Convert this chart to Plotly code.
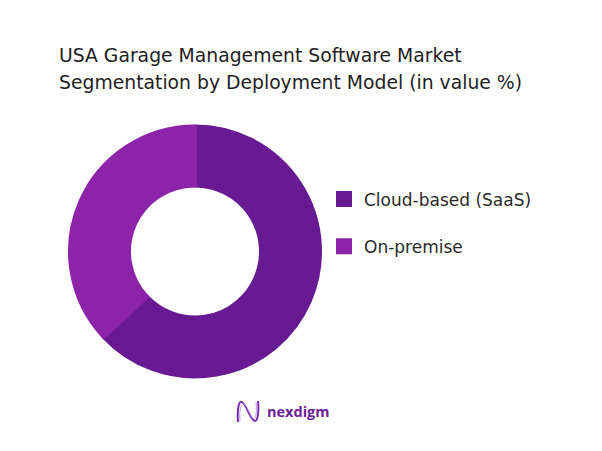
import plotly.graph_objects as go

labels = ["Cloud-based (SaaS)", "On-premise"]
values = [63, 37]
colors = ["#681a93", "#8d23a8"]

title_lines = ["USA Garage Management Software Market",
               "Segmentation by Deployment Model (in value %)"]
brand = "nexdigm"

W, H = 602, 451
OFF = 8  # page body margin


def px(x):
    return (x - OFF) / W


def py(y):
    return (H - (y - OFF)) / H


cx, cy = 195, 251.5
r_geo = 125          # geometric radius; marker line adds 2px outward
lw = 4
hole = 66 / r_geo

legend_labels = [lab + "<br> " for lab in labels]

fig = go.Figure(go.Pie(
    labels=legend_labels, values=values, hole=hole, sort=False, direction="clockwise",
    rotation=0,
    marker=dict(colors=colors, line=dict(color=colors, width=lw)),
    textinfo="none", customdata=labels,
    hovertemplate="%{customdata}: %{percent}<extra></extra>",
    domain=dict(x=[px(cx - r_geo), px(cx + r_geo)], y=[py(cy + r_geo), py(cy - r_geo)]),
))

fig.update_layout(
    width=W, height=H, margin=dict(l=0, r=0, t=0, b=0),
    paper_bgcolor="white", plot_bgcolor="white",
    font=dict(family="DejaVu Sans, sans-serif", color="#222222"),
    showlegend=True,
    legend=dict(x=px(324), y=py(181.5), xanchor="left", yanchor="top", valign="top",
                font=dict(size=17, color="#2a2a2a", family="DejaVu Sans, sans-serif"),
                itemwidth=30, bgcolor="rgba(0,0,0,0)"),
    annotations=[
        dict(text=title_lines[0], x=px(57), y=py(55), xref="paper", yref="paper",
             xanchor="left", yanchor="middle", align="left", showarrow=False,
             font=dict(size=18.8, color="#1e1e1e", family="DejaVu Sans, sans-serif")),
        dict(text=title_lines[1], x=px(57), y=py(82.5), xref="paper", yref="paper",
             xanchor="left", yanchor="middle", align="left", showarrow=False,
             font=dict(size=18.8, color="#1e1e1e", family="DejaVu Sans, sans-serif")),
        dict(text="<b>" + brand + "</b>", x=px(265), y=py(411), xref="paper", yref="paper",
             xanchor="left", yanchor="middle", showarrow=False,
             font=dict(size=14.5, color="#6c2099", family="Open Sans, sans-serif")),
    ],
    shapes=[
        dict(type="path", xref="paper", yref="paper",
             path=(f"M {px(238)} {py(422)} C {px(237)} {py(408)}, {px(239)} {py(400)}, {px(242)} {py(402)} "
                   f"C {px(247)} {py(405)}, {px(250)} {py(420)}, {px(255)} {py(421)} "
                   f"C {px(258)} {py(421)}, {px(259)} {py(410)}, {px(258)} {py(401)}"),
             line=dict(color="#7b2fb2", width=2)),
        dict(type="path", xref="paper", yref="paper",
             path=(f"M {px(240)} {py(421)} C {px(239)} {py(410)}, {px(241)} {py(403)}, {px(244)} {py(404)} "
                   f"C {px(248)} {py(407)}, {px(251)} {py(418)}, {px(254)} {py(419)} "
                   f"C {px(256)} {py(419)}, {px(257)} {py(411)}, {px(256)} {py(402)}"),
             line=dict(color="#c6a0e2", width=1)),
    ],
)

fig.write_html("out.html")
